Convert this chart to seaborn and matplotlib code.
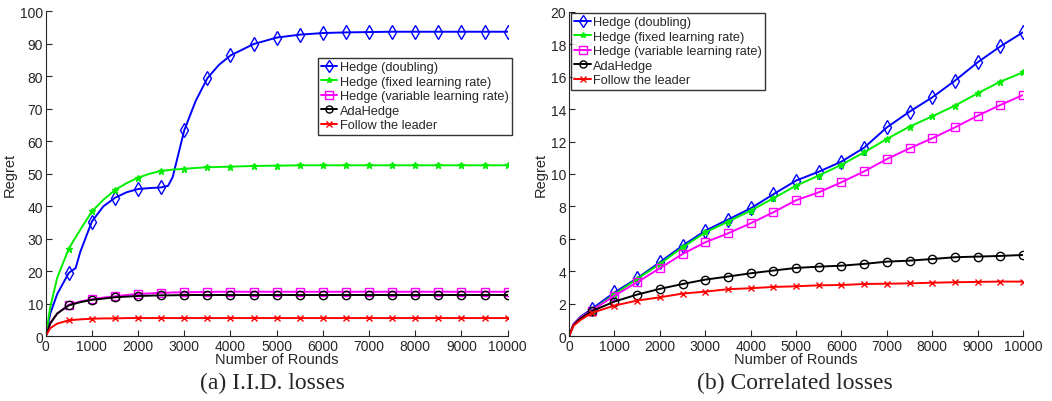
import matplotlib
matplotlib.use("Agg")
import matplotlib.pyplot as plt
import seaborn as sns

sns.set_style("ticks")
plt.rcParams['font.family'] = ['Liberation Sans', 'DejaVu Sans']

# === Datos: (a) pérdidas I.I.D. ===
x_iid = [0, 100, 250, 500, 650, 750, 1000, 1250, 1500, 1750, 2000, 2250, 2500, 2650,
         2750, 3000, 3250, 3500, 3750, 4000, 4500, 5000, 5500, 6000, 6500, 7000,
         7500, 8000, 8500, 9000, 9500, 10000]
iid_doubling = [0, 7, 13, 19.5, 21, 26, 35.3, 40, 42.6, 44.3, 45.3, 45.6, 45.8, 46.3,
                49, 63.4, 72.5, 79.4, 83.5, 86.4, 89.9, 91.9, 92.8, 93.3, 93.5, 93.6,
                93.7, 93.7, 93.7, 93.7, 93.7, 93.7]
iid_fixed = [0, 9, 18, 26.9, 30.5, 32.8, 38.4, 42, 45, 47.1, 48.8, 50, 50.9, 51.1,
             51.3, 51.5, 51.8, 52, 52.1, 52.2, 52.4, 52.5, 52.6, 52.6, 52.6, 52.6,
             52.6, 52.6, 52.6, 52.6, 52.6, 52.6]
iid_variable = [0, 4, 7, 9.7, 10.3, 10.7, 11.4, 11.9, 12.3, 12.7, 13.0, 13.2, 13.4, 13.4,
                13.5, 13.5, 13.6, 13.6, 13.7, 13.7, 13.7, 13.7, 13.7, 13.7, 13.7, 13.7,
                13.7, 13.7, 13.7, 13.7, 13.7, 13.7]
iid_adahedge = [0, 4, 7, 9.5, 10.1, 10.5, 11.2, 11.6, 12.0, 12.2, 12.4, 12.5, 12.6, 12.6,
                12.6, 12.7, 12.7, 12.7, 12.7, 12.7, 12.7, 12.7, 12.7, 12.7, 12.7, 12.7,
                12.7, 12.7, 12.7, 12.7, 12.7, 12.7]
iid_ftl = [0, 2.5, 3.9, 4.9, 5.1, 5.2, 5.4, 5.5, 5.5, 5.6, 5.6, 5.6, 5.6, 5.6,
           5.6, 5.6, 5.6, 5.6, 5.6, 5.6, 5.6, 5.6, 5.6, 5.6, 5.6, 5.6,
           5.6, 5.6, 5.6, 5.6, 5.6, 5.6]

# === Datos: (b) pérdidas correlacionadas ===
x_corr = [0, 100, 250, 500, 1000, 1500, 2000, 2500, 3000, 3500, 4000, 4500, 5000,
          5500, 6000, 6500, 7000, 7500, 8000, 8500, 9000, 9500, 10000]
corr_doubling = [0, 0.75, 1.2, 1.68, 2.7, 3.57, 4.56, 5.58, 6.5, 7.19, 7.88, 8.75, 9.59,
                 10.14, 10.76, 11.62, 12.87, 13.84, 14.72, 15.75, 16.88, 17.86, 18.73]
corr_fixed = [0, 0.75, 1.15, 1.58, 2.59, 3.53, 4.46, 5.48, 6.4, 7.06, 7.74, 8.5, 9.28,
              9.9, 10.57, 11.33, 12.16, 12.92, 13.55, 14.21, 14.97, 15.69, 16.26]
corr_variable = [0, 0.75, 1.15, 1.58, 2.5, 3.33, 4.19, 5.07, 5.79, 6.34, 6.96, 7.64, 8.38,
                 8.87, 9.49, 10.16, 10.92, 11.58, 12.2, 12.87, 13.59, 14.25, 14.87]
corr_adahedge = [0, 0.7, 1.1, 1.54, 2.14, 2.57, 2.92, 3.22, 3.49, 3.68, 3.88, 4.05, 4.21,
                 4.29, 4.35, 4.46, 4.6, 4.66, 4.76, 4.87, 4.91, 4.95, 5.01]
corr_ftl = [0, 0.65, 1.0, 1.44, 1.89, 2.2, 2.4, 2.63, 2.75, 2.9, 2.96, 3.04, 3.08,
            3.14, 3.16, 3.22, 3.24, 3.26, 3.3, 3.33, 3.35, 3.37, 3.37]

labels = ["Hedge (doubling)", "Hedge (fixed learning rate)",
          "Hedge (variable learning rate)", "AdaHedge", "Follow the leader"]
colores = ["#0000ff", "#00ee00", "#ff00ff", "#000000", "#ff0000"]
marcadores = ["d", "*", "s", "o", "x"]


def dibujar(ax, x, series, ymax, ystep):
    idx = [i for i, v in enumerate(x) if v > 0 and v % 500 == 0]
    for y, lab, c, m in zip(series, labels, colores, marcadores):
        mfc = c if m == "*" else "none"
        ms = {"d": 7, "*": 5, "s": 6, "o": 6, "x": 5}[m]
        sns.lineplot(x=x, y=y, ax=ax, color=c, marker=m, markevery=idx, mfc=mfc,
                     mec=c, ms=ms, mew=1.0, lw=1.4, label=lab)
    ax.set_xlim(0, 10000)
    ax.set_ylim(0, ymax)
    ax.set_xticks(range(0, 10001, 1000))
    ax.set_yticks(range(0, ymax + 1, ystep))
    ax.tick_params(direction="in", length=4, labelsize=10, pad=2)
    ax.set_xlabel("Number of Rounds", fontsize=10.5, labelpad=-1)
    ax.set_ylabel("Regret", fontsize=10.5, labelpad=2)
    sns.despine(ax=ax)


fig = plt.figure(figsize=(10.52, 4.02), dpi=100)
ax1 = fig.add_axes([0.0434, 0.161, 0.4392, 0.8085])
ax2 = fig.add_axes([0.5409, 0.161, 0.4316, 0.8075])

dibujar(ax1, x_iid, [iid_doubling, iid_fixed, iid_variable, iid_adahedge, iid_ftl], 100, 10)
dibujar(ax2, x_corr, [corr_doubling, corr_fixed, corr_variable, corr_adahedge, corr_ftl], 20, 2)

leg_kw = dict(fontsize=9.2, frameon=True, fancybox=False, handlelength=1.3,
              handletextpad=0.2, borderpad=0.25, labelspacing=0.2, borderaxespad=0,
              markerscale=0.85)
l1 = ax1.legend(loc="upper right", bbox_to_anchor=(512 / 1052, 1 - 59 / 402),
                bbox_transform=fig.transFigure, **leg_kw)
l2 = ax2.legend(loc="upper left", bbox_to_anchor=(571 / 1052, 1 - 14 / 402),
                bbox_transform=fig.transFigure, **leg_kw)
for l in (l1, l2):
    l.get_frame().set_edgecolor("black")
    l.get_frame().set_linewidth(1.0)

fig.text(272 / 1052, 1 - 383 / 402, "(a) I.I.D. losses", ha="center", va="center",
         fontsize=17, family="Liberation Serif")
fig.text(795 / 1052, 1 - 383 / 402, "(b) Correlated losses", ha="center", va="center",
         fontsize=17, family="Liberation Serif")

fig.savefig("out.png", dpi=100)
